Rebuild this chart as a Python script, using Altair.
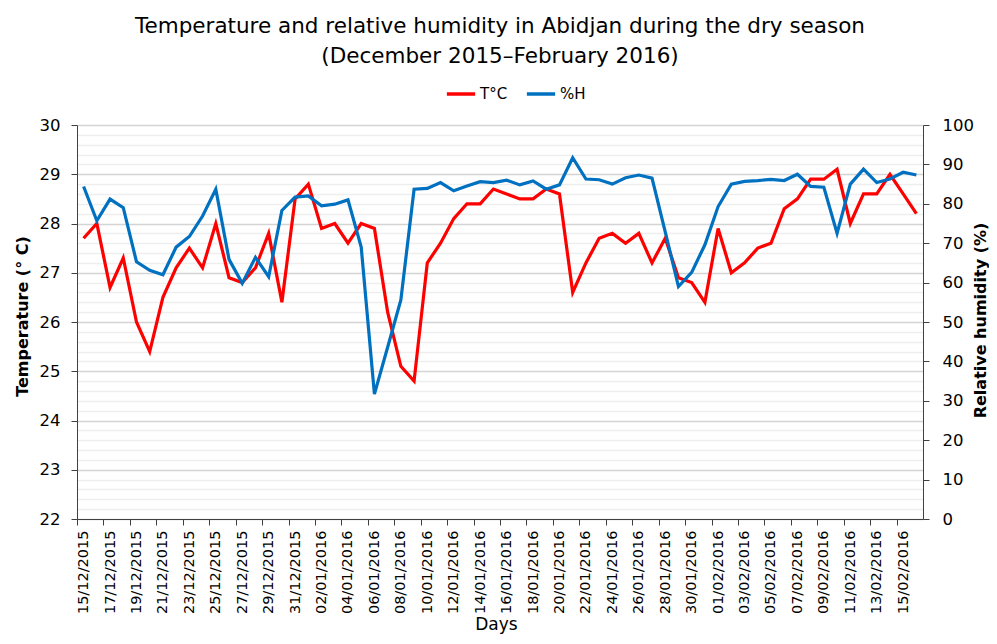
import json
import altair as alt
import pandas as pd

# ---- data -------------------------------------------------------------
dates = [
    "15/12/2015", "16/12/2015", "17/12/2015", "18/12/2015", "19/12/2015",
    "20/12/2015", "21/12/2015", "22/12/2015", "23/12/2015", "24/12/2015",
    "25/12/2015", "26/12/2015", "27/12/2015", "28/12/2015", "29/12/2015",
    "30/12/2015", "31/12/2015", "01/01/2016", "02/01/2016", "03/01/2016",
    "04/01/2016", "05/01/2016", "06/01/2016", "07/01/2016", "08/01/2016",
    "09/01/2016", "10/01/2016", "11/01/2016", "12/01/2016", "13/01/2016",
    "14/01/2016", "15/01/2016", "16/01/2016", "17/01/2016", "18/01/2016",
    "19/01/2016", "20/01/2016", "21/01/2016", "22/01/2016", "23/01/2016",
    "24/01/2016", "25/01/2016", "26/01/2016", "27/01/2016", "28/01/2016",
    "29/01/2016", "30/01/2016", "31/01/2016", "01/02/2016", "02/02/2016",
    "03/02/2016", "04/02/2016", "05/02/2016", "06/02/2016", "07/02/2016",
    "08/02/2016", "09/02/2016", "10/02/2016", "11/02/2016", "12/02/2016",
    "13/02/2016", "14/02/2016", "15/02/2016", "16/02/2016",
]

temperature = [
    27.7, 28.0, 26.7, 27.3, 26.0, 25.4, 26.5, 27.1, 27.5, 27.1,
    28.0, 26.9, 26.8, 27.1, 27.8, 26.4, 28.5, 28.8, 27.9, 28.0,
    27.6, 28.0, 27.9, 26.2, 25.1, 24.8, 27.2, 27.6, 28.1, 28.4,
    28.4, 28.7, 28.6, 28.5, 28.5, 28.7, 28.6, 26.6, 27.2, 27.7,
    27.8, 27.6, 27.8, 27.2, 27.7, 26.9, 26.8, 26.4, 27.9, 27.0,
    27.2, 27.5, 27.6, 28.3, 28.5, 28.9, 28.9, 29.1, 28.0, 28.6,
    28.6, 29.0, 28.6, 28.2,
]

humidity = [
    84.4, 75.7, 81.2, 79.0, 65.3, 63.1, 62.0, 69.0, 71.7, 76.9,
    83.7, 65.9, 59.8, 66.4, 61.5, 78.3, 81.7, 82.0, 79.5, 79.9,
    81.0, 69.0, 31.7, 43.6, 55.6, 83.7, 83.9, 85.4, 83.3, 84.5,
    85.6, 85.4, 86.0, 84.8, 85.8, 83.7, 84.8, 91.7, 86.3, 86.1,
    85.0, 86.6, 87.3, 86.5, 72.9, 59.0, 62.6, 69.6, 79.3, 85.0,
    85.7, 85.9, 86.2, 85.9, 87.5, 84.4, 84.2, 72.5, 85.0, 88.8,
    85.4, 86.3, 88.0, 87.3,
]

series_names = ["T°C", "%H"]
series_colors = ["#FF0000", "#0070C0"]

temp_ticks = [round(22 + 0.2 * k, 1) for k in range(41)]
hum_ticks = list(range(0, 101, 10))
x_ticks = list(range(0, len(dates), 2))

df = pd.DataFrame({
    "idx": list(range(len(dates))),
    "date": dates,
    "T": temperature,
    "H": humidity,
})

# ---- layout ----------------------------------------------------------
W, H = 846, 394
PAD_L, PAD_T = 69, 117
TOTAL_W, TOTAL_H = 981, 626
half_band = W / len(dates) / 2
FONT = "DejaVu Sans"

color_scale = alt.Scale(domain=series_names, range=series_colors)

x_enc = alt.X(
    "idx:Q",
    scale=alt.Scale(domain=[-0.5, len(dates) - 0.5], nice=False, zero=False),
    axis=alt.Axis(
        values=x_ticks,
        labelExpr=f"{json.dumps(dates)}[datum.value]",
        labelAngle=270,
        labelFontSize=14.5,
        labelPadding=5,
        labelColor="#000000",
        tickOffset=-half_band,
        labelOffset=half_band,
        tickSize=6,
        tickColor="#404040",
        domainColor="#404040",
        grid=False,
        title="Days",
        titleFontSize=17,
        titleFontWeight="normal",
        titleX=419,
        titleY=110,
        titleBaseline="alphabetic",
        titleColor="#000000",
    ),
)

is_major = "abs(datum.value - round(datum.value)) < 0.001"

temp_line = alt.Chart(df).mark_line(strokeWidth=3.2).encode(
    x=x_enc,
    y=alt.Y(
        "T:Q",
        scale=alt.Scale(domain=[22, 30], nice=False, zero=False),
        axis=alt.Axis(
            values=temp_ticks,
            labelExpr=f"{is_major} ? format(datum.value, '.0f') : ''",
            labelFontSize=16.5,
            labelPadding=11,
            labelColor="#000000",
            tickSize=6,
            tickColor="#404040",
            tickOpacity={"condition": {"test": is_major, "value": 1}, "value": 0},
            domainColor="#404040",
            grid=True,
            gridColor={"condition": {"test": is_major, "value": "#D4D4D4"}, "value": "#EEEEEE"},
            gridWidth=1.3,
            title="Temperature (° C)",
            titleFontSize=16,
            titleFontWeight="bold",
            titleColor="#000000",
            titleAngle=270,
            titleBaseline="middle",
            titleAlign="center",
            titleX=-55,
            titleY=191,
        ),
    ),
    color=alt.Color(
        "s:N",
        scale=color_scale,
        legend=alt.Legend(
            title=None,
            orient="none",
            legendX=368,
            legendY=-47,
            direction="horizontal",
            symbolType="stroke",
            symbolSize=800,
            symbolStrokeWidth=3.5,
            labelFontSize=15,
            labelFont=FONT,
            labelColor="#000000",
            labelOffset=3,
            columnPadding=11,
        ),
    ),
).transform_calculate(s="'T°C'")

hum_line = alt.Chart(df).mark_line(strokeWidth=3.2).encode(
    x=x_enc,
    y=alt.Y(
        "H:Q",
        scale=alt.Scale(domain=[0, 100], nice=False, zero=True),
        axis=alt.Axis(
            orient="right",
            values=hum_ticks,
            labelFontSize=16.5,
            labelPadding=13,
            labelColor="#000000",
            tickSize=6,
            tickColor="#404040",
            domainColor="#404040",
            grid=False,
            title="Relative humidity (%)",
            titleFontSize=16,
            titleFontWeight="bold",
            titleColor="#000000",
            titleAngle=270,
            titleBaseline="middle",
            titleAlign="center",
            titleX=57,
            titleY=195,
        ),
    ),
    color=alt.Color("s:N", scale=color_scale),
).transform_calculate(s="'%H'")

chart = (
    alt.layer(temp_line, hum_line)
    .resolve_scale(y="independent")
    .properties(
        width=W,
        height=H,
        autosize=alt.AutoSizeParams(type="none"),
        padding={
            "left": PAD_L,
            "top": PAD_T,
            "right": TOTAL_W - PAD_L - W,
            "bottom": TOTAL_H - PAD_T - H,
        },
        title=alt.TitleParams(
            text=[
                "Temperature and relative humidity in Abidjan during the dry season",
                "(December 2015\u2013February 2016)",
            ],
            fontSize=21.5,
            font=FONT,
            fontWeight="normal",
            color="#000000",
            anchor="middle",
            lineHeight=30,
            offset=11,
        ),
    )
    .configure(font=FONT)
    .configure_view(stroke=None)
    .configure_axis(labelFont=FONT, titleFont=FONT)
)

chart.save("out.html", embed_options={"renderer": "svg", "actions": False})
